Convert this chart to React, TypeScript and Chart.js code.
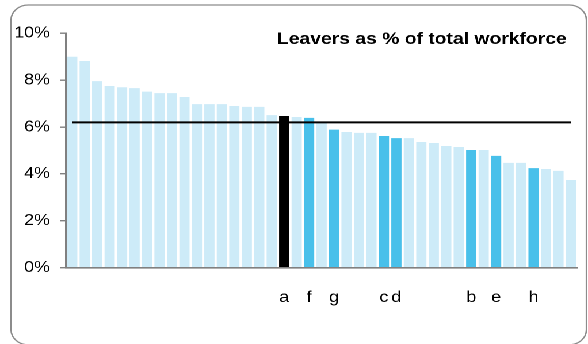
import React, { useEffect, useRef } from 'react';
import { Chart, registerables } from 'chart.js';

Chart.register(...registerables);

// ---- data ----
const categoryLabels: string[] = [
  '', '', '', '', '', '', '', '', '', '', '', '', '', '', '', '', '',
  'a', '', 'f', '', 'g', '', '', '', 'c', 'd', '', '', '', '', '',
  'b', '', 'e', '', '', 'h', '', '', '',
];
const leaverRates: number[] = [
  9.0, 8.82, 7.96, 7.75, 7.7, 7.66, 7.51, 7.45, 7.45, 7.28,
  6.98, 6.98, 6.98, 6.9, 6.86, 6.86, 6.51, 6.47, 6.43, 6.39,
  6.18, 5.89, 5.79, 5.75, 5.75, 5.62, 5.53, 5.53, 5.36, 5.32,
  5.19, 5.15, 5.02, 5.02, 4.77, 4.47, 4.47, 4.25, 4.21, 4.13, 3.74,
];
const averageRate = 6.2;
const yTickValues: number[] = [0, 2, 4, 6, 8, 10];
const chartTitle = 'Leavers as % of total workforce';
const ownLabel = 'a';

// ---- styling ----
const W = 511;
const H = 344;
const STRETCH = 588 / W;
const LIGHT = '#CDEBF8';
const MEDIUM = '#48C0EA';
const DARK = '#000000';
const AXIS = '#808080';
const FONT = "'Liberation Sans', Arial, sans-serif";

const framePlugin = {
  id: 'frame',
  beforeDraw(chart: any) {
    const ctx = chart.ctx;
    ctx.save();
    ctx.strokeStyle = '#8c8c8c';
    ctx.lineWidth = 1.3;
    ctx.beginPath();
    ctx.roundRect(9.6, 5, 509.6 - 9.6, 344.8 - 5, 15);
    ctx.stroke();
    ctx.restore();
  },
};

const titlePlugin = {
  id: 'cornerTitle',
  afterDraw(chart: any) {
    const ctx = chart.ctx;
    ctx.save();
    ctx.font = `bold 16.8px ${FONT}`;
    ctx.fillStyle = '#000';
    ctx.textAlign = 'right';
    ctx.textBaseline = 'alphabetic';
    ctx.fillText(chartTitle, 492.5, 44);
    ctx.restore();
  },
};

export default function App() {
  const ref = useRef<HTMLCanvasElement | null>(null);

  useEffect(() => {
    if (!ref.current) return;
    const colors = categoryLabels.map((l) => (l === ownLabel ? DARK : l ? MEDIUM : LIGHT));
    const chart = new Chart(ref.current, {
      type: 'bar',
      data: {
        labels: categoryLabels,
        datasets: [
          {
            type: 'line',
            data: categoryLabels.map(() => averageRate),
            borderColor: '#000',
            borderWidth: 2,
            pointRadius: 0,
            fill: false,
            order: 0,
          } as any,
          {
            type: 'bar',
            data: leaverRates,
            backgroundColor: colors,
            borderWidth: 0,
            barPercentage: 0.82,
            categoryPercentage: 1,
            order: 1,
          },
        ],
      },
      options: {
        responsive: false,
        animation: false,
        devicePixelRatio: 2,
        layout: { padding: { top: 33.3, left: 0, right: 9.4, bottom: 0 } },
        plugins: {
          legend: { display: false },
          tooltip: { enabled: false },
          title: { display: false },
        },
        scales: {
          x: {
            grid: {
              display: true,
              drawOnChartArea: false,
              drawTicks: true,
              tickLength: 20.6,
              tickColor: 'rgba(0,0,0,0)',
            },
            border: { display: true, color: AXIS, width: 1.6 },
            ticks: {
              autoSkip: false,
              maxRotation: 0,
              padding: 0,
              color: '#000',
              font: { family: FONT, size: 15.5 },
            },
            afterFit(scale: any) {
              scale.height = 76.3;
            },
          },
          y: {
            min: 0,
            max: 10,
            afterBuildTicks(scale: any) {
              scale.ticks = yTickValues.map((v) => ({ value: v }));
            },
            grid: {
              drawOnChartArea: false,
              drawTicks: true,
              tickLength: 5.2,
              color: AXIS,
              lineWidth: 1.4,
            },
            border: { display: true, color: AXIS, width: 1.7 },
            ticks: {
              padding: 8.7,
              color: '#000',
              font: { family: FONT, size: 15.5 },
              callback: (v: any) => `${v}%`,
            },
            afterFit(scale: any) {
              scale.width = 57.36;
            },
          },
        },
      },
      plugins: [framePlugin, titlePlugin],
    });
    return () => chart.destroy();
  }, []);

  return (
    <div
      style={{
        position: 'fixed',
        left: 0,
        top: 0,
        width: W,
        height: H,
        transform: `scaleX(${STRETCH})`,
        transformOrigin: '0 0',
        background: '#fff',
      }}
    >
      <canvas ref={ref} width={W} height={H} style={{ width: W, height: H, display: 'block' }} />
    </div>
  );
}
